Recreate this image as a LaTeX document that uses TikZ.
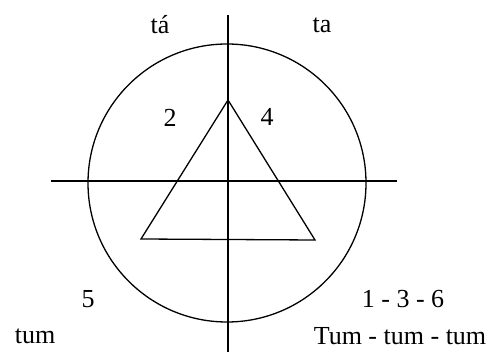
\documentclass[tikz,border=0pt]{standalone}
\usepackage{fontspec}
\setmainfont{Liberation Serif}
\usepackage{tikz}
\usetikzlibrary{positioning}

\begin{document}
\begin{tikzpicture}[x=1pt,y=-1pt,line width=1.3pt,
	lbl/.style={font=\fontsize{26}{30}\selectfont,inner sep=0pt}]
		\useasboundingbox (0,0) rectangle (490,352);
		
		%Axes
		\coordinate (top) at (228,15);
		\coordinate (bot) at (228,352);
		\coordinate (lft) at (51,181);
		\coordinate (rgt) at (397,181);
		\draw (top) -- (bot);
		\draw (lft) -- (rgt);
		
		%Circle
		\coordinate (c) at (227,183);
		\draw (c) circle (139);
		
		%Triangle
		\coordinate (apex) at (228,100);
		\coordinate (bl) at (141,239);
		\coordinate (br) at (315,240);
		\draw (apex) -- (bl) -- (br) -- cycle;
		
		%Labels
		\node[lbl] (ta1) at (160,25) {tá};
		\node[lbl] (ta2) at (322,25) {ta};
		\node[lbl] (n2) at (170,118) {2};
		\node[lbl] (n4) at (267,117) {4};
		\node[lbl] (n5) at (88,299) {5};
		\node[lbl] (n136) at (403,299) {1 - 3 - 6};
		\node[lbl] (tum) at (35,336) {tum};
		\node[lbl] (tumx) at (400,336) {Tum - tum - tum};
	\end{tikzpicture}
\end{document}
